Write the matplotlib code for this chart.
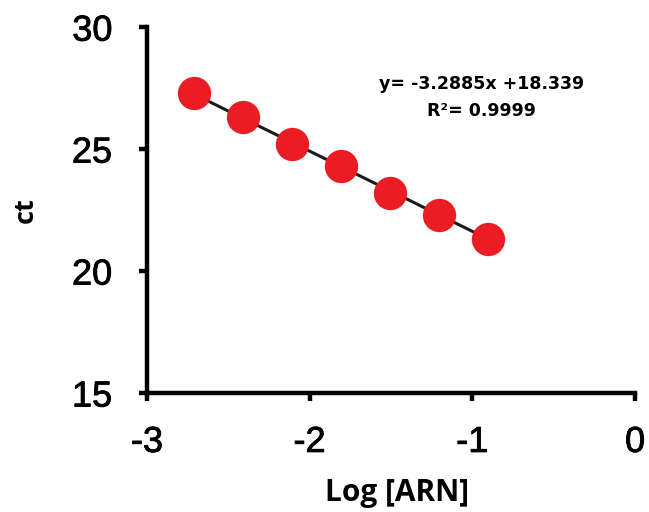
import matplotlib.pyplot as plt
import matplotlib.patheffects as pe
import numpy as np

# standard curve: log of the ARN dilution vs. cycle threshold
log_arn = [-2.709, -2.408, -2.107, -1.806, -1.505, -1.204, -0.903]
ct = [27.3, 26.3, 25.2, 24.3, 23.2, 22.3, 21.3]

slope = -3.2885
intercept = 18.339
r2 = 0.9999

fig = plt.figure(figsize=(6.49, 5.12), dpi=100)
ax = fig.add_axes([0.2265, 0.2324, 0.752, 0.7146])

# fitted line between first and last dilution
xs = np.array([log_arn[0], log_arn[-1]])
ax.plot(xs, slope * xs + intercept, color='#1a1a1a', linewidth=2.2, zorder=2)
ax.plot(log_arn, ct, 'o', color='#ec1c24', markersize=24, markeredgewidth=0, zorder=3)

ax.set_xlim(-3, 0)
ax.set_ylim(15, 30)
ax.set_xticks([-3, -2, -1, 0])
ax.set_yticks([15, 20, 25, 30])
ax.set_xticklabels(['-3', '-2', '-1', '0'])

for side in ['top', 'right']:
    ax.spines[side].set_visible(False)
for side in ['left', 'bottom']:
    ax.spines[side].set_linewidth(3.2)
    ax.spines[side].set_color('black')
ax.tick_params(direction='out', length=6, width=3.2, labelsize=26)
ax.tick_params(axis='x', pad=17)
ax.tick_params(axis='y', pad=19)
for lab in ax.get_xticklabels() + ax.get_yticklabels():
    lab.set_family('Liberation Sans')
    lab.set_path_effects([pe.withStroke(linewidth=0.6, foreground='black')])

ax.set_xlabel('Log [ARN]', fontsize=21.5, fontweight='bold', family='Open Sans')
ax.xaxis.set_label_coords(0.512, -0.232)
ax.set_ylabel('ct', fontsize=19.5, fontweight='bold', family='Open Sans', labelpad=24)

ax.text(-0.944, 27.66, 'y= -3.2885x +18.339', fontsize=12.5, fontweight='bold',
        family='DejaVu Sans', ha='center', va='center')
ax.text(-0.944, 26.56, 'R²= ' + str(r2), fontsize=12.5, fontweight='bold',
        family='DejaVu Sans', ha='center', va='center')

fig.savefig('out.png', dpi=100)
